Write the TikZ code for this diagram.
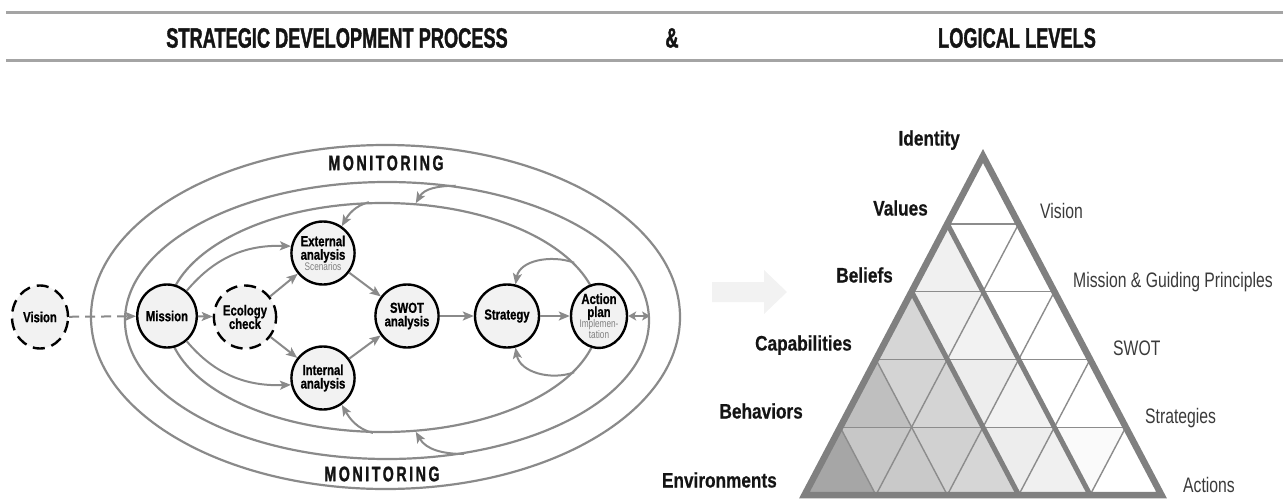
\documentclass[tikz,border=0pt]{standalone}
\usepackage{fontspec}
\setmainfont{Liberation Sans}
\newfontfamily\fTitle[FakeStretch=0.65,FakeBold=1.2]{Liberation Sans}
\newfontfamily\fLab[FakeStretch=0.82,FakeBold=0.5]{Liberation Sans}
\newfontfamily\fNode[FakeStretch=0.78,FakeBold=0.8]{Liberation Sans}
\newfontfamily\fReg[FakeStretch=0.75]{Liberation Sans}
\newfontfamily\fSmall[FakeStretch=0.75]{Liberation Sans}
\newfontfamily\fMon[FakeStretch=0.68,LetterSpace=12,FakeBold=1.2]{Liberation Sans}
\usetikzlibrary{arrows.meta,shapes.geometric}
\definecolor{lg}{HTML}{8A8A8A}
\definecolor{nodefill}{HTML}{F2F2F2}
\definecolor{hdr}{HTML}{A4A4A4}
\definecolor{txtgray}{HTML}{808080}
\definecolor{rtxt}{HTML}{3A3A3A}
\definecolor{faint}{HTML}{F2F2F2}
\definecolor{gridc}{HTML}{8C8C8C}
\definecolor{thickc}{HTML}{808080}
\newcommand\smallgray[1]{{\fSmall\mdseries\color{txtgray}\fontsize{11}{11}\selectfont #1}}
\begin{document}
\begin{tikzpicture}[x=1pt,y=1pt,
  proc/.style={ellipse, draw=black, line width=2.4pt, fill=nodefill,
    minimum width=56pt, minimum height=63pt, inner sep=0pt, align=center,
    font=\fNode\bfseries\fontsize{14.5}{14.5}\selectfont},
  dproc/.style={proc, dash pattern=on 12pt off 7pt},
  orb/.style={ellipse, draw=lg, line width=2.2pt, inner sep=0pt},
  flow/.style={draw=lg, line width=2pt, -{Stealth[length=11pt,width=9pt,inset=2.5pt]}},
  dflow/.style={flow, dash pattern=on 10pt off 6pt},
  dbl/.style={draw=lg, line width=2pt, {Stealth[length=8pt,width=9pt,inset=2pt]}-{Stealth[length=8pt,width=9pt,inset=2pt]}},
  ttl/.style={font=\fTitle\bfseries\fontsize{28}{30}\selectfont, text=black!92, inner sep=0pt},
  lablft/.style={anchor=east, font=\fLab\bfseries\fontsize{21}{24}\selectfont, text=black!92, inner sep=0pt, text height=15pt, text depth=4pt},
  labrgt/.style={anchor=west, font=\fReg\fontsize{21}{24}\selectfont, text=rtxt, inner sep=0pt, text height=15pt, text depth=4pt},
  mon/.style={font=\fMon\bfseries\fontsize{21}{22}\selectfont, text=black!92, inner sep=0pt},
  gridl/.style={draw=gridc, line width=1.4pt},
  thickl/.style={draw=thickc, line width=5pt},
]
\useasboundingbox (0,0) rectangle (1283,-501);

% header
\draw[hdr, line width=2.8pt] (6,-12.3) -- (1283,-12.3);
\draw[hdr, line width=2.8pt] (6,-60.7) -- (1283,-60.7);
\node[ttl] (t1) at (337,-38) {STRATEGIC DEVELOPMENT PROCESS};
\node[ttl] (t2) at (672,-38) {\&};
\node[ttl] (t3) at (1017,-38) {LOGICAL LEVELS};

% orbits
\node[orb, minimum width=589pt, minimum height=344pt] (outerE) at (385.5,-317) {};
\node[orb, minimum width=524pt, minimum height=277pt] (midE) at (387,-320.5) {};
\node[orb, minimum width=432pt, minimum height=229pt] (innE) at (383,-317.5) {};

\node[mon] (montop) at (386,-163) {MONITORING};
\node[mon] (monbot) at (382,-474) {MONITORING};

% process nodes
\node[dproc] (vision) at (40,-317) {Vision};
\node[proc] (mission) at (167,-316) {Mission};
\node[dproc] (eco) at (245,-317) {Ecology\\[-1pt]check};
\node[proc] (ext) at (323,-253) {External\\[-1pt]analysis\\[-4pt]\smallgray{Scenarios}};
\node[proc] (int) at (323,-378) {Internal\\[-1pt]analysis};
\node[proc] (swot) at (407,-316) {SWOT\\[-1pt]analysis};
\node[proc] (strat) at (507,-316) {Strategy};
\node[proc] (act) at (599,-316) {Action\\[-1.5pt]plan\\[-3.5pt]\smallgray{Implemen-}\\[-4pt]\smallgray{tation}};

% flows
\draw[dflow] (vision) -- (mission);
\draw[flow] (mission) -- (eco);
\draw[flow] (eco) -- (ext);
\draw[flow] (eco) -- (int);
\draw[flow] (ext) -- (swot);
\draw[flow] (int) -- (swot);
\draw[flow] (swot) -- (strat);
\draw[flow] (strat) -- (act);
\draw[flow] (mission.52) to[out=50,in=178] (ext.168);
\draw[flow] (mission.-52) to[out=-50,in=182] (int.192);
\draw[dbl] (act.east) -- (act.east -| midE.east);

% feedback loops
\draw[flow] (midE.63) to[out=180,in=60] (innE.74);
\draw[flow] (innE.97) to[out=195,in=60] (ext.55);
\draw[flow] (midE.-60) to[out=180,in=-60] (innE.-74);
\draw[flow] (innE.-95) to[out=165,in=-60] (int.-55);
\draw[flow] (innE.16) to[out=160,in=80] (strat.75);
\draw[flow] (innE.-16) to[out=200,in=-80] (strat.-75);

% faint arrow
\fill[faint] (712,-282) -- (764,-282) -- (764,-270) -- (787,-292) -- (764,-314) -- (764,-302) -- (712,-302) -- cycle;

% triangle grid points
\foreach \i in {0,...,5} {
  \foreach \j in {0,...,\i} {
    \coordinate (p\i\j) at ({983-\i*35.7+\j*71.4}, {-156-\i*67.8});
  }
}
% shading
\fill[white] (p00) -- (p50) -- (p55) -- cycle;
\fill[black!6]  (p10) -- (p20) -- (p21) -- cycle;
\fill[black!16] (p20) -- (p30) -- (p31) -- cycle;
\fill[black!6]  (p20) -- (p21) -- (p31) -- cycle;
\fill[black!5]  (p21) -- (p31) -- (p32) -- cycle;
\fill[black!25] (p30) -- (p40) -- (p41) -- cycle;
\fill[black!17] (p30) -- (p31) -- (p41) -- cycle;
\fill[black!17] (p31) -- (p41) -- (p42) -- cycle;
\fill[black!7]  (p31) -- (p32) -- (p42) -- cycle;
\fill[black!5]  (p32) -- (p42) -- (p43) -- cycle;
\fill[black!35] (p40) -- (p50) -- (p51) -- cycle;
\fill[black!22] (p40) -- (p41) -- (p51) -- cycle;
\fill[black!21] (p41) -- (p51) -- (p52) -- cycle;
\fill[black!18] (p41) -- (p42) -- (p52) -- cycle;
\fill[black!16] (p42) -- (p52) -- (p53) -- cycle;
\fill[black!7]  (p42) -- (p43) -- (p53) -- cycle;
\fill[black!6]  (p43) -- (p53) -- (p54) -- cycle;
\fill[black!2]  (p43) -- (p44) -- (p54) -- cycle;
% grid
\draw[gridl] (p10) -- (p11);
\draw[gridl] (p20) -- (p22);
\draw[gridl] (p30) -- (p33);
\draw[gridl] (p40) -- (p44);
\draw[gridl] (p11) -- (p51);
\draw[gridl] (p22) -- (p52);
\draw[gridl] (p33) -- (p53);
\draw[gridl] (p44) -- (p54);
\draw[gridl] (p30) -- (p52);
\draw[gridl] (p40) -- (p51);
\draw[thickl] (p10) -- (p54);
\draw[thickl] (p20) -- (p53);
\draw[draw=thickc, line width=6.5pt, line join=miter] (p00) -- (p50) -- (p55) -- cycle;

% labels
\node[lablft] (lid) at (960,-140) {Identity};
\node[lablft] (lva) at (928,-210) {Values};
\node[lablft] (lbe) at (893,-277) {Beliefs};
\node[lablft] (lca) at (852,-345) {Capabilities};
\node[lablft] (lbh) at (803,-413) {Behaviors};
\node[lablft] (len) at (777,-482) {Environments};
\node[labrgt] (rvi) at (1040,-213) {Vision};
\node[labrgt] (rmi) at (1073,-282) {Mission \& Guiding Principles};
\node[labrgt] (rsw) at (1113,-350) {SWOT};
\node[labrgt] (rst) at (1145,-418) {Strategies};
\node[labrgt] (rac) at (1183,-487) {Actions};
\end{tikzpicture}
\end{document}
